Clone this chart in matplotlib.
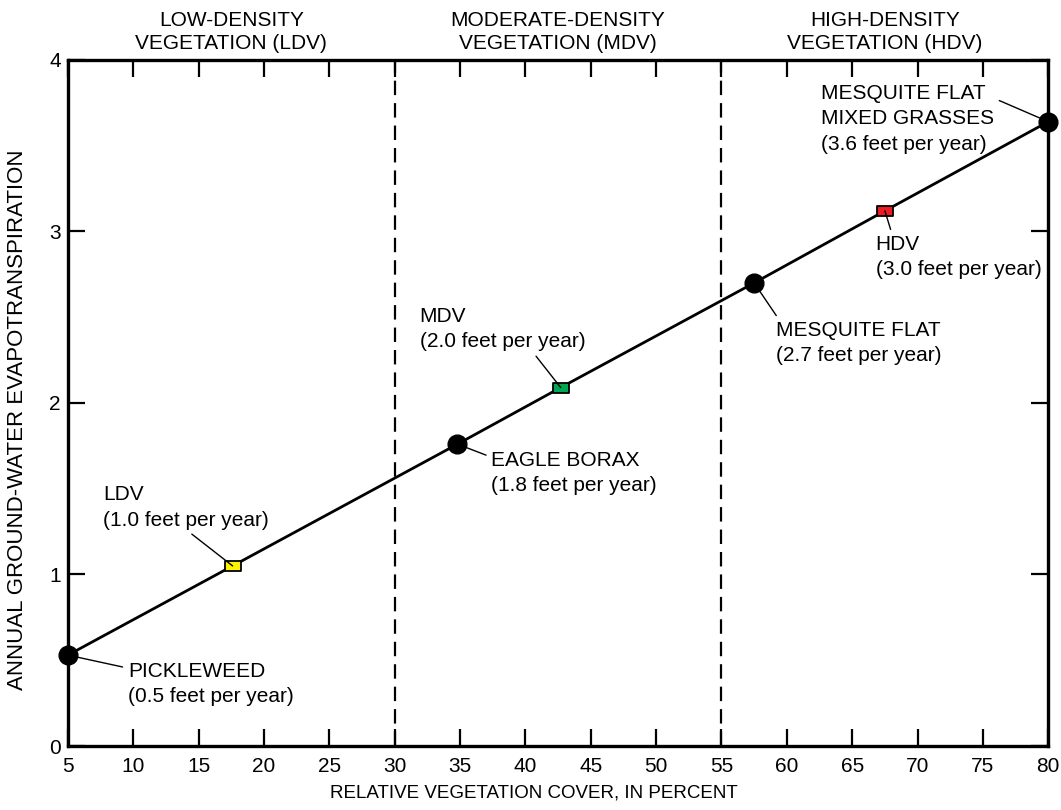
import matplotlib
matplotlib.use("Agg")
import matplotlib.pyplot as plt
from matplotlib.path import Path

plt.rcParams['font.family'] = ['Liberation Sans', 'DejaVu Sans']

# Data
cover = [5.0, 17.6, 34.8, 42.7, 57.5, 67.5, 80.0]
et = [0.53, 1.05, 1.76, 2.09, 2.70, 3.12, 3.64]
kinds = ['site', 'ldv', 'site', 'mdv', 'site', 'hdv', 'site']
labels = ['PICKLEWEED\n(0.5 feet per year)',
          'LDV\n(1.0 feet per year)',
          'EAGLE BORAX\n(1.8 feet per year)',
          'MDV\n(2.0 feet per year)',
          'MESQUITE FLAT\n(2.7 feet per year)',
          'HDV\n(3.0 feet per year)',
          'MESQUITE FLAT\nMIXED GRASSES\n(3.6 feet per year)']
zone_bounds = [30, 55]
zone_names = ['LOW-DENSITY\nVEGETATION (LDV)',
              'MODERATE-DENSITY\nVEGETATION (MDV)',
              'HIGH-DENSITY\nVEGETATION (HDV)']
zone_centers = [17.5, 42.5, 67.5]
square_colors = {'ldv': '#FFF200', 'mdv': '#00A651', 'hdv': '#ED1C24'}
xticks = list(range(5, 81, 5))
yticks = [0, 1, 2, 3, 4]

# label layout (text anchor in data coords, relpos of leader start)
text_pos = [(9.6, 0.49), (7.7, 1.52), (37.4, 1.72), (31.9, 2.56),
            (59.2, 2.48), (66.8, 2.98), (62.6, 3.86)]
rel_pos = [(0.0, 0.86), (0.5, 0.0), (0.0, 0.86), (0.68, 0.0),
           (0.02, 1.0), (0.1, 1.0), (0.93, 0.87)]

fig = plt.figure(figsize=(10.61, 8.10), dpi=100)
ax = fig.add_axes([0.064, 0.079, 0.924, 0.847])

ax.set_xlim(5, 80)
ax.set_ylim(0, 4)

for xb in zone_bounds:
    ax.axvline(xb, color='black', lw=1.6, ls=(0, (6.5, 3.6)), zorder=1)

ax.plot(cover, et, color='black', lw=2, zorder=2)

rect = Path([(-1.55, -1.0), (1.55, -1.0), (1.55, 1.0), (-1.55, 1.0), (-1.55, -1.0)],
            [Path.MOVETO, Path.LINETO, Path.LINETO, Path.LINETO, Path.CLOSEPOLY])

for x, y, k in zip(cover, et, kinds):
    if k == 'site':
        ax.plot(x, y, marker='o', ms=13.5, color='black', zorder=4, clip_on=False)
    else:
        ax.plot(x, y, marker=rect, ms=12, mfc=square_colors[k], mec='black',
                mew=1.3, zorder=4, clip_on=False)

for x, y, lab, tp, rp in zip(cover, et, labels, text_pos, rel_pos):
    ax.annotate(lab, xy=(x, y), xytext=tp, textcoords='data',
                ha='left', va='top', fontsize=15, linespacing=1.42,
                arrowprops=dict(arrowstyle='-', lw=1.0, color='black',
                                shrinkA=2, shrinkB=0, relpos=rp),
                zorder=5, annotation_clip=False)

for xc, name in zip(zone_centers, zone_names):
    ax.text(xc, 4.04, name, ha='center', va='bottom', fontsize=15,
            linespacing=1.3)

ax.set_xticks(xticks)
ax.set_yticks(yticks)
ax.tick_params(direction='in', length=12, width=1.6, top=True, right=True,
               labelsize=15)
ax.tick_params(axis='x', pad=8)
ax.tick_params(axis='y', pad=5)
ax.set_xticklabels([str(t) for t in xticks])
for s in ax.spines.values():
    s.set_linewidth(2.4)

ax.set_xlabel('RELATIVE VEGETATION COVER, IN PERCENT', fontsize=13.5)
ax.set_ylabel('ANNUAL GROUND-WATER EVAPOTRANSPIRATION', fontsize=16)
ax.xaxis.set_label_coords(0.475, -0.069)
ax.yaxis.set_label_coords(-0.051, 0.475)
ax.xaxis.label.set_va('center')
ax.yaxis.label.set_va('center')

fig.savefig('out.png', dpi=100)
